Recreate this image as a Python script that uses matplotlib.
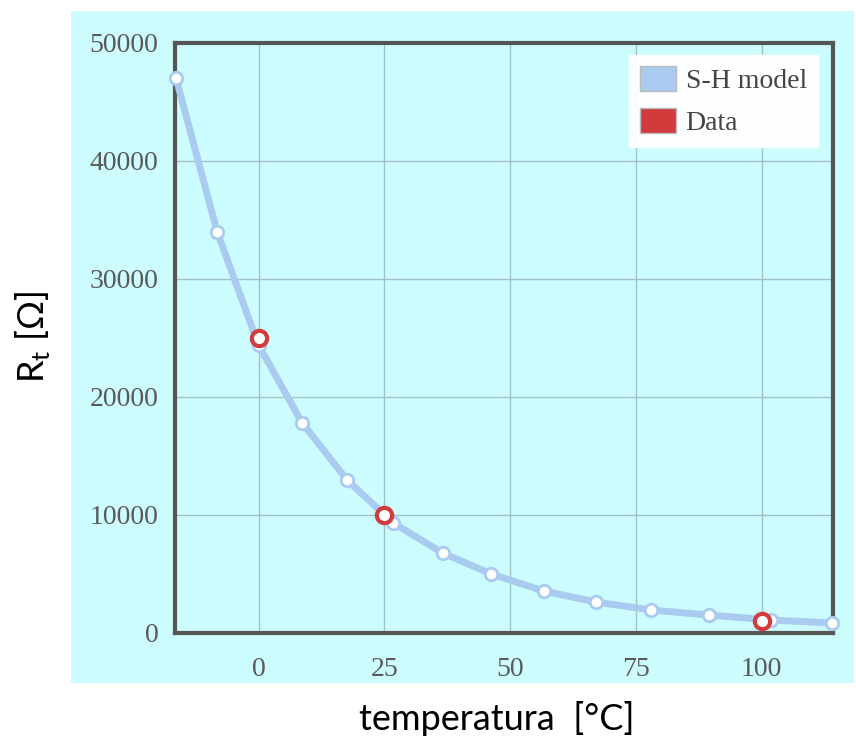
import matplotlib
matplotlib.use("Agg")
import matplotlib.pyplot as plt
from matplotlib.patches import Rectangle, Patch

# Steinhart-Hart model points
model_t = [-16.4, -8.2, 0.0, 8.7, 17.6, 26.8, 36.6, 46.3, 56.7, 67.0, 78.0, 89.5, 101.8, 114.0]
model_r = [47030, 33980, 24400, 17800, 12970, 9320, 6780, 5000, 3560, 2630, 1950, 1525, 1100, 850]

# measured data
data_t = [0, 25, 100]
data_r = [25000, 10000, 1000]

x_ticks = [0, 25, 50, 75, 100]
y_ticks = [0, 10000, 20000, 30000, 40000, 50000]

fig = plt.figure(figsize=(8.56, 7.46), dpi=100)

# light cyan panel behind the chart
panel = Rectangle((71 / 856, (746 - 683) / 746), (854 - 71) / 856, (683 - 11) / 746,
                  transform=fig.transFigure, facecolor="#cdfcff", edgecolor="none", zorder=-5)
fig.add_artist(panel)

ax = fig.add_axes([175 / 856, (746 - 633) / 746, (833 - 175) / 856, (633 - 43) / 746])
ax.set_facecolor("#cdfcff")

ax.plot(model_t, model_r, color="#a9cbf0", linewidth=5, marker="o", markersize=9,
        markerfacecolor="white", markeredgecolor="#a9cbf0", markeredgewidth=2, clip_on=False, zorder=3)
ax.plot(data_t, data_r, linestyle="none", marker="o", markersize=11,
        markerfacecolor="white", markeredgecolor="#d23b3b", markeredgewidth=3, clip_on=False, zorder=4)

ax.set_xlim(-16.6, 114.2)
ax.set_ylim(0, 50000)
ax.set_xticks(x_ticks)
ax.set_yticks(y_ticks)
ax.grid(True, color="#a0c2c2", linewidth=1)
ax.set_axisbelow(True)
ax.tick_params(length=0, labelsize=20, labelcolor="#5a5a5a")
ax.tick_params(axis="x", pad=17)
ax.tick_params(axis="y", pad=12)
for lab in ax.get_xticklabels() + ax.get_yticklabels():
    lab.set_family("Liberation Serif")
for s in ax.spines.values():
    s.set_color("#555555")
    s.set_linewidth(3)

leg = ax.legend(handles=[Patch(facecolor="#a9cbf0", edgecolor="#bbbbbb", label="S-H model"),
                         Patch(facecolor="#d23b3b", edgecolor="#bbbbbb", label="Data")],
                loc="upper right", bbox_to_anchor=(0.977, 0.98), frameon=True, fancybox=False,
                prop={"family": "Liberation Serif", "size": 20}, handlelength=1.3, handleheight=1.0,
                borderpad=0.4, labelspacing=0.5, handletextpad=0.35, borderaxespad=0)
leg.get_frame().set_facecolor("white")
leg.get_frame().set_edgecolor("white")
leg.get_frame().set_alpha(0.95)
for t in leg.get_texts():
    t.set_color("#444444")

fig.text(497 / 856, 1 - 718 / 746, "temperatura  [°C]", ha="center", va="center",
         fontsize=26, family="Lato", color="black")
fig.text(33 / 856, 1 - 337 / 746, r"R$_\mathregular{t}$ [Ω]", ha="center", va="center",
         rotation=90, fontsize=26, family="Lato", color="black")

fig.savefig("out.png", dpi=100)
